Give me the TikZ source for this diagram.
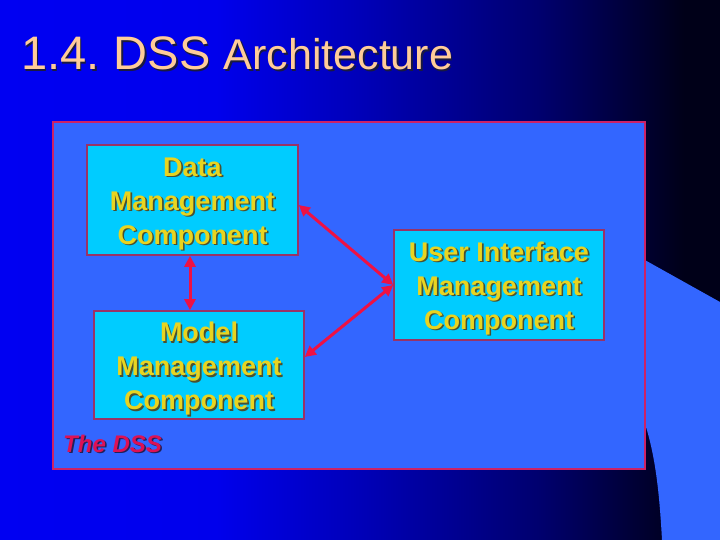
\documentclass[tikz,border=0pt]{standalone}
\usepackage{fontspec}
\setmainfont{Liberation Sans}
\newfontfamily\titlefont{Liberation Sans}
\usetikzlibrary{arrows.meta}
\definecolor{bgA}{HTML}{0000F2}
\definecolor{bgB}{HTML}{0000EC}
\definecolor{bgC}{HTML}{0000B8}
\definecolor{bgD}{HTML}{00006E}
\definecolor{bgE}{HTML}{000018}
\definecolor{panelc}{HTML}{3366FF}
\definecolor{panelb}{HTML}{CC2266}
\definecolor{boxc}{HTML}{00CCFF}
\definecolor{boxb}{HTML}{993366}
\definecolor{arrowc}{HTML}{EE1144}
\definecolor{txtc}{HTML}{E8D420}
\definecolor{txtsh}{HTML}{4A5030}
\definecolor{titlec}{HTML}{FFCC99}
\definecolor{titlesh}{HTML}{1A1A40}
\definecolor{dssc}{HTML}{DD1155}
\definecolor{dsssh}{HTML}{20205A}
\pgfdeclarehorizontalshading{bgshade}{100bp}{color(0bp)=(bgA); color(25bp)=(bgA); color(40bp)=(bgB); color(50bp)=(bgC); color(62.5bp)=(bgD); color(72.5bp)=(bgE); color(75bp)=(bgE); color(100bp)=(bgE)}
\newcommand{\shd}[2]{\makebox[0pt][l]{\hspace{1.6pt}\raisebox{-1.6pt}{\textcolor{#1}{#2}}}#2}
\newcommand{\bx}[1]{\shd{txtsh}{#1}}
\tikzset{
  compbox/.style={draw=boxb, line width=1.6pt, fill=boxc, text=txtc, align=center,
    font=\bfseries\fontsize{27}{34}\selectfont, inner sep=0pt},
  link/.style={draw=arrowc, line width=3pt, {Triangle[length=11pt,width=11pt]}-{Triangle[length=11pt,width=11pt]}},
}
\begin{document}
\begin{tikzpicture}[x=1pt,y=-1pt]
\useasboundingbox (0,0) rectangle (720,540);
\shade[shading=bgshade] (0,0) rectangle (720,540);
% ribbon at right
\fill[panelc] (600,235) -- (720,302) -- (720,540) -- (662,540)
  .. controls (659,485) and (654,445) .. (640,410) -- cycle;
% panel
\node[draw=panelb, line width=2pt, fill=panelc, minimum width=592pt, minimum height=347pt, inner sep=0pt] (panel) at (349,295.5) {};
% title
\node[anchor=base west, inner sep=0pt, text=titlec] (title) at (21,70)
  {\titlefont\fontsize{47}{56}\selectfont\shd{titlesh}{1.4.\hspace{-3pt} DSS} \fontsize{43}{56}\selectfont\shd{titlesh}{Architecture}};
% boxes
\node[compbox, minimum width=211pt, minimum height=110pt] (data) at (192.5,200)
  {\rule{0pt}{28pt}\bx{Data}\\\bx{Management}\\\bx{Component}};
\node[compbox, minimum width=210pt, minimum height=108pt] (model) at (199,365)
  {\rule{0pt}{28pt}\bx{Model}\\\bx{Management}\\\bx{Component}};
\node[compbox, minimum width=210pt, minimum height=110pt] (ui) at (499,285)
  {\rule{0pt}{28pt}\bx{User Interface}\\\bx{Management}\\\bx{Component}};
% label
\node[anchor=base west, inner sep=0pt, text=dssc, font=\bfseries\itshape\fontsize{24}{28}\selectfont] (dss) at (63,452) {\shd{dsssh}{The DSS}};
% connectors
\draw[link] (data.south -| 190,0) -- (model.north -| 190,0);
\draw[link] ([yshift=-5pt]data.east) -- (ui.west);
\draw[link] ([yshift=8pt]model.east) -- (ui.west);
\end{tikzpicture}
\end{document}
